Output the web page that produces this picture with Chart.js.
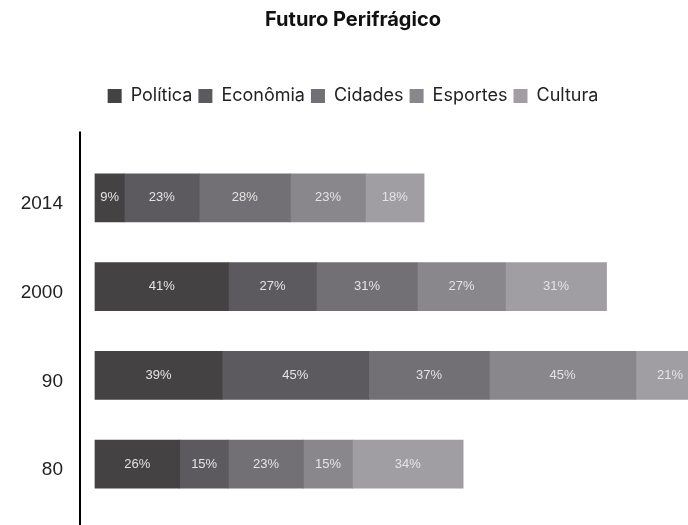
<!DOCTYPE html>
<html>
<head>
<meta charset="utf-8">
<script src="https://cdn.jsdelivr.net/npm/chart.js@4/dist/chart.umd.min.js"></script>
<style>
  html, body { margin: 0; padding: 0; background: #fff; }
  #wrap { width: 688px; height: 525px; position: relative; }
</style>
</head>
<body>
<div id="wrap"><canvas id="chart"></canvas></div>
<script>
const periods = ['2014', '2000', '90', '80'];
const politica = [9, 41, 39, 26];
const economia = [23, 27, 45, 15];
const cidades = [28, 31, 37, 23];
const esportes = [23, 27, 45, 15];
const cultura = [18, 31, 21, 34];

const labelFont = '"Liberation Sans", Arial, sans-serif';
const headFont = 'Inter, "Noto Sans", sans-serif';

// percentage text in the middle of every segment
const segmentLabels = {
    id: 'segmentLabels',
    afterDatasetsDraw(chart) {
        const ctx = chart.ctx;
        ctx.save();
        ctx.font = `13px ${labelFont}`;
        ctx.fillStyle = '#e4e4e4';
        ctx.textAlign = 'center';
        ctx.textBaseline = 'middle';
        chart.data.datasets.forEach((ds, i) => {
            chart.getDatasetMeta(i).data.forEach((bar, j) => {
                const cx = (bar.x + bar.base) / 2;
                ctx.fillText(ds.data[j] + '%', cx, bar.y);
            });
        });
        ctx.restore();
    }
};

// the category axis line runs a bit above the plot and down to the bottom edge
const axisLine = {
    id: 'axisLine',
    afterDraw(chart) {
        const ctx = chart.ctx;
        const x = chart.chartArea.left;
        ctx.save();
        ctx.strokeStyle = '#000';
        ctx.lineWidth = 2;
        ctx.beginPath();
        ctx.moveTo(x, chart.chartArea.top - 22);
        ctx.lineTo(x, chart.height);
        ctx.stroke();
        ctx.restore();
    }
};

// more room between legend and plot
const legendGap = {
    id: 'legendGap',
    beforeInit(chart) {
        const fit = chart.legend.fit;
        chart.legend.fit = function () {
            fit.bind(chart.legend)();
            this.height += 38.5;
        };
    }
};

const mk = (label, data, color) => ({
    label: label,
    data: data,
    backgroundColor: color,
    borderWidth: 0,
    barThickness: 48
});

new Chart(document.getElementById('chart'), {
    type: 'bar',
    data: {
        labels: periods,
        datasets: [
            mk('Política', politica, '#454243'),
            mk('Econômia', economia, '#5c5a5e'),
            mk('Cidades', cidades, '#727074'),
            mk('Esportes', esportes, '#89878b'),
            mk('Cultura', cultura, '#a09ea2')
        ]
    },
    options: {
        indexAxis: 'y',
        responsive: true,
        maintainAspectRatio: false,
        animation: false,
        layout: { padding: { left: 18, right: 0, top: 0, bottom: 16.5 } },
        scales: {
            x: {
                stacked: true,
                display: false,
                min: -4.6,
                max: 182
            },
            y: {
                stacked: true,
                grid: { display: false, drawTicks: false },
                border: { display: false },
                ticks: {
                    font: { family: labelFont, size: 19 },
                    color: '#222',
                    padding: 17,
                    labelOffset: 6
                },
                afterFit: scale => {
                    scale.width = 62;
                    scale.paddingTop = 0;
                    scale.paddingBottom = 0;
                }
            }
        },
        plugins: {
            title: {
                display: true,
                text: 'Futuro Perifrágico',
                font: { family: headFont, size: 20, weight: 'bold' },
                color: '#111',
                padding: { top: 8, bottom: 49 }
            },
            legend: {
                position: 'top',
                labels: {
                    font: { family: headFont, size: 18 },
                    color: '#222',
                    boxWidth: 14,
                    boxHeight: 14,
                    padding: 6
                }
            },
            tooltip: { enabled: false }
        }
    },
    plugins: [segmentLabels, axisLine, legendGap]
});
</script>
</body>
</html>
